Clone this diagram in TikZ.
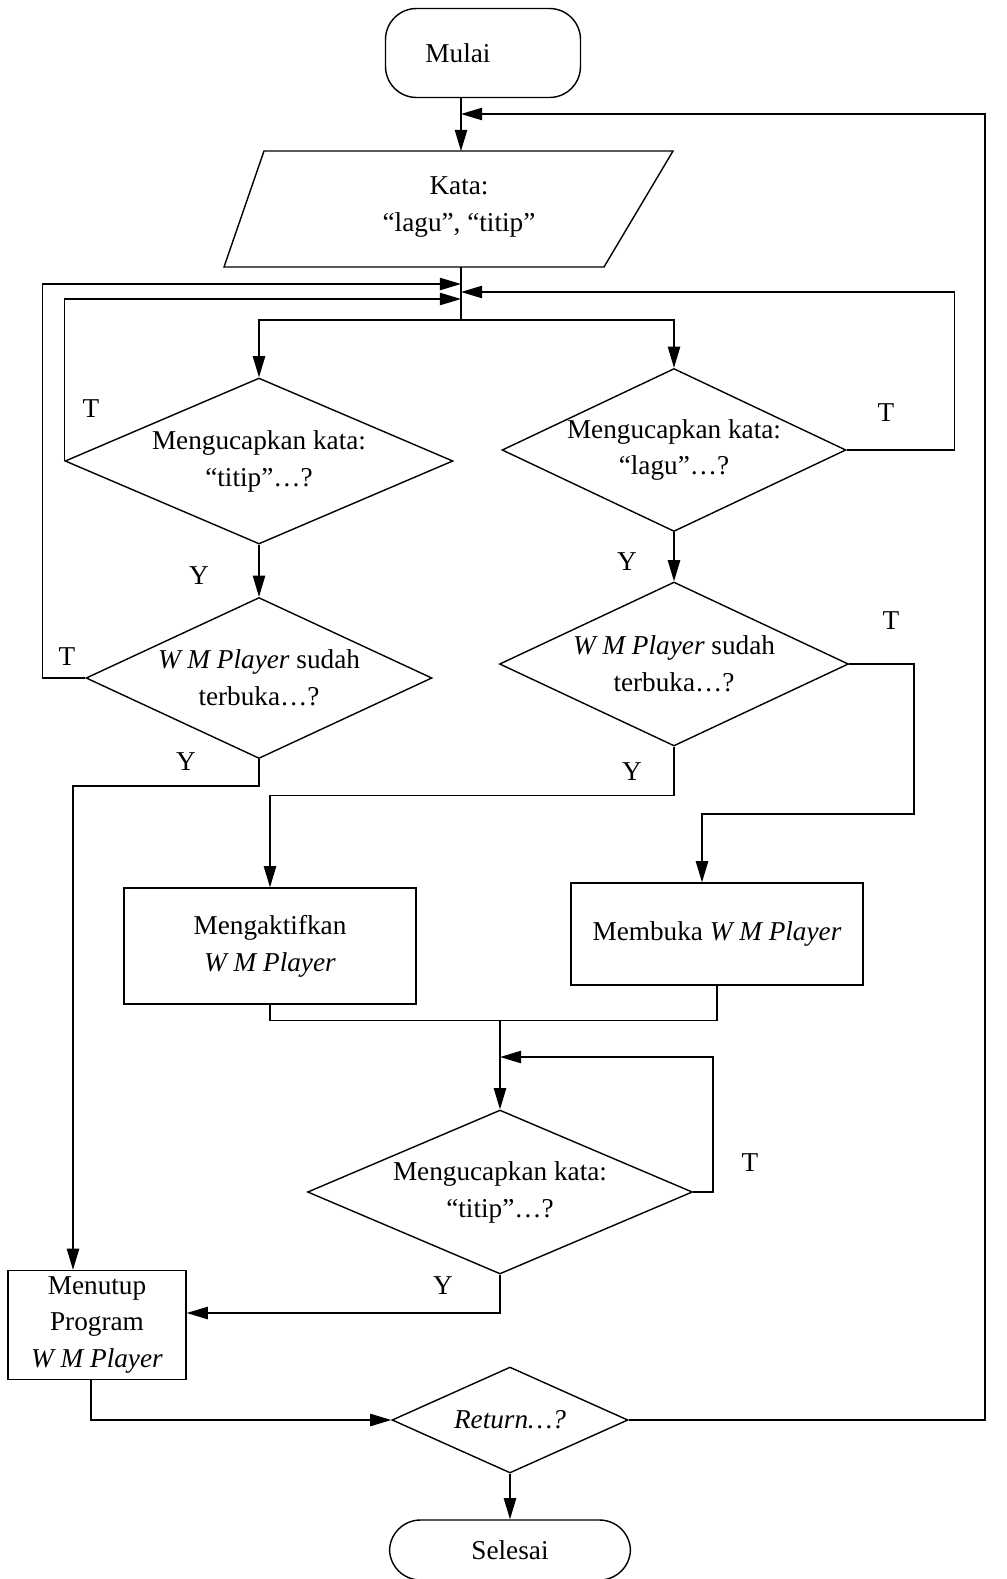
\documentclass[tikz,border=0pt]{standalone}
\usepackage{fontspec}
\setmainfont{Liberation Serif}
\usetikzlibrary{arrows.meta,shapes.geometric}
\begin{document}
\begin{tikzpicture}[x=0.02cm,y=-0.02cm,
  line width=0.8pt,
  every node/.style={font=\fontsize{15.5}{21}\selectfont},
  arr/.style={-{Triangle[length=12pt,width=7pt]}},
  term/.style={draw, rounded corners=0.62cm, inner sep=0pt},
  proc/.style={draw, inner sep=0pt, align=center},
  dia/.style={draw, diamond, inner sep=0pt},
  dtxt/.style={align=center, inner sep=0pt},
  lbl/.style={inner sep=0pt}
]
\useasboundingbox (0,0) rectangle (1007,1579);

% ---- nodes ----
\node[term, minimum width=3.9cm, minimum height=1.78cm,
  label={[dtxt, xshift=-0.5cm]center:Mulai}] (mulai) at (483,53) {};

% input (parallelogram)
\draw (264,151) -- (673,151) -- (604,267) -- (224,267) -- cycle;
\node[dtxt] (kata) at (459,207) {Kata:\\“lagu”, “titip”};

\node[dia, minimum width=7.76cm, minimum height=3.32cm,
  label={[dtxt]center:{Mengucapkan kata:\\“titip”…?}}] (d1) at (259,461) {};
\node[dia, minimum width=6.92cm, minimum height=3.22cm,
  label={[dtxt]center:{\textit{W M Player} sudah\\terbuka…?}}] (d2) at (259,678) {};
\node[dia, minimum width=6.88cm, minimum height=3.26cm,
  label={[dtxt]center:{Mengucapkan kata:\\“lagu”…?}}] (d3) at (674,450) {};
\node[dia, minimum width=6.98cm, minimum height=3.28cm,
  label={[dtxt]center:{\textit{W M Player} sudah\\terbuka…?}}] (d4) at (674,664) {};

\node[proc, minimum width=5.84cm, minimum height=2.32cm] (akt) at (270,946)
  {Mengaktifkan\\\textit{W M Player}};
\node[proc, minimum width=5.84cm, minimum height=2.04cm] (buka) at (717,934)
  {Membuka \textit{W M Player}};

\node[dia, minimum width=7.7cm, minimum height=3.28cm,
  label={[dtxt]center:{Mengucapkan kata:\\“titip”…?}}] (d5) at (500,1192) {};

\node[proc, minimum width=3.56cm, minimum height=2.18cm] (tutup) at (97,1325)
  {Menutup\\Program\\\textit{W M Player}};

\node[dia, minimum width=4.72cm, minimum height=2.12cm,
  label={[dtxt]center:{\textit{Return…?}}}] (ret) at (510,1420) {};

\node[term, minimum width=4.82cm, minimum height=1.2cm] (sel) at (510,1550) {Selesai};

% ---- helper coordinates ----
\coordinate (spine) at (461,0);
\coordinate (katatop) at (461,151);
\coordinate (katabot) at (461,267);
\coordinate (inA) at (461,284);
\coordinate (inC) at (461,292);
\coordinate (inB) at (461,299);
\coordinate (split) at (461,320);
\coordinate (rt) at (985,114);
\coordinate (bk) at (702,814);
\coordinate (mt) at (73,0);
\coordinate (mt2) at (91,0);
\coordinate (jn) at (500,1020);
\coordinate (lp) at (500,1057);
\coordinate (yy) at (0,1313);

% ---- connectors ----
\draw[arr] (mulai.south -| spine) -- (katatop);
\draw (katabot) -- (split);
\draw[arr] (split) -| (d1.north);
\draw[arr] (split) -| (d3.north);

\draw[arr] (d1.west) |- (inB);
\draw[arr] (d2.west) -- ++(-43,0) |- (inA);
\draw[arr] (d3.east) -- ++(108,0) |- (inC);

\draw[arr] (d1.south) -- (d2.north);
\draw[arr] (d3.south) -- (d4.north);

\draw[arr] (d2.south) -- ++(0,27) -| (mt |- tutup.north);
\draw[arr] (d4.south) -- ++(0,49) -| (akt.north);
\draw[arr] (d4.east) -- ++(65,0) |- (bk) -- (bk |- buka.north);

\draw (akt.south) -- ++(0,16) -| (buka.south);
\draw[arr] (jn) -- (d5.north);
\draw[arr] (d5.east) -- ++(20,0) |- (lp);
\draw[arr] (d5.south) |- (tutup.east |- yy);

\draw[arr] (tutup.south -| mt2) |- (ret.west);
\draw[arr] (ret.east) -| (rt) -- (rt -| spine);
\draw[arr] (ret.south) -- (sel.north);

% ---- branch labels ----
\node[lbl] (t1) at (91,409) {T};
\node[lbl] (y1) at (199,576) {Y};
\node[lbl] (t2) at (67,657) {T};
\node[lbl] (y2) at (186,762) {Y};
\node[lbl] (t3) at (886,413) {T};
\node[lbl] (y3) at (627,562) {Y};
\node[lbl] (t4) at (891,621) {T};
\node[lbl] (y4) at (632,772) {Y};
\node[lbl] (t5) at (750,1163) {T};
\node[lbl] (y5) at (443,1286) {Y};
\end{tikzpicture}
\end{document}
